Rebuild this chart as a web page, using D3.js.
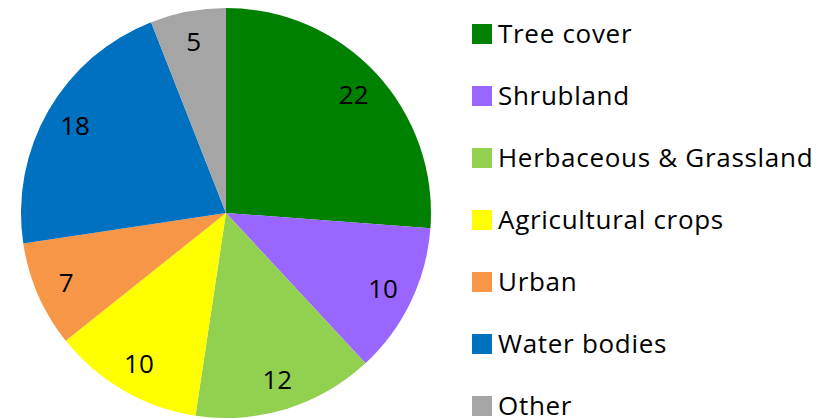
<!DOCTYPE html>
<html><head><meta charset="utf-8">
<script src="https://cdn.jsdelivr.net/npm/d3@7"></script>
<style>body{margin:0;background:#fff}svg{display:block}</style>
</head><body>
<svg id="c" width="839" height="419"></svg>
<script>
const categories = ["Tree cover","Shrubland","Herbaceous & Grassland","Agricultural crops","Urban","Water bodies","Other"];
const values = [22,10,12,10,7,18,5];
const colors = ["#008000","#9966FF","#92D050","#FFFF00","#F79646","#0070C0","#A5A5A5"];

const svg = d3.select("#c");
const cx = 226, cy = 213, r = 205;
const font = "'Open Sans', sans-serif";

const pie = d3.pie().sort(null).value(d => d.v);
const data = categories.map((c,i)=>({c, v: values[i], col: colors[i]}));
const arcs = pie(data);
const arc = d3.arc().innerRadius(0).outerRadius(r);
const labelArc = d3.arc().innerRadius(r*0.85).outerRadius(r*0.85);

const g = svg.append("g").attr("transform",`translate(${cx},${cy})`);
g.selectAll("path").data(arcs).join("path")
  .attr("d", arc).attr("fill", d=>d.data.col);
g.selectAll("text").data(arcs).join("text")
  .attr("transform", d=>`translate(${labelArc.centroid(d)})`)
  .attr("text-anchor","middle").attr("dy","0.36em")
  .attr("font-family", font).attr("font-size", 26).attr("fill","#000")
  .text(d=>d.data.v);

const ly = d3.scalePoint().domain(categories).range([34, 406]);
const lg = svg.append("g");
const items = lg.selectAll("g").data(data).join("g")
  .attr("transform", d=>`translate(472,${ly(d.c)})`);
items.append("rect").attr("x",0).attr("y",-10).attr("width",20).attr("height",20).attr("fill", d=>d.col);
items.append("text").attr("x",26).attr("y",0).attr("dy","0.35em")
  .attr("font-family", font).attr("font-size", 26).attr("letter-spacing", 0.7).attr("fill","#000")
  .text(d=>d.c);
</script>
</body></html>
